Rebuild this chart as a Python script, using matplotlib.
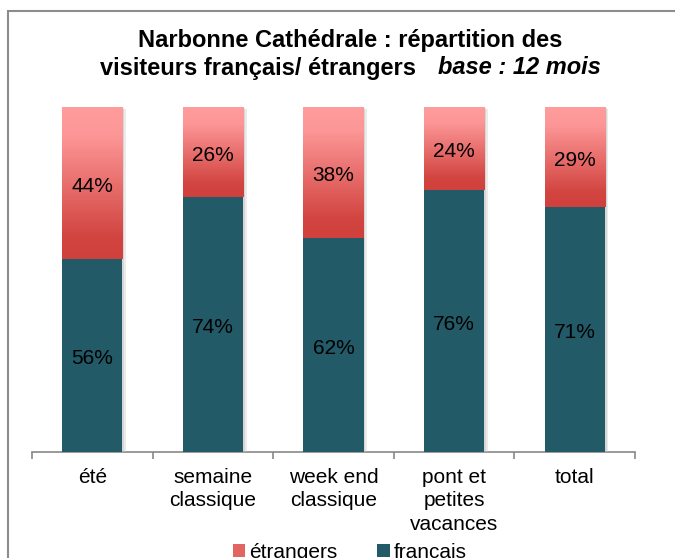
import numpy as np
import matplotlib
matplotlib.use("Agg")
import matplotlib.pyplot as plt
from matplotlib.colors import LinearSegmentedColormap
from matplotlib.patches import Patch, Rectangle
import matplotlib.patheffects as pe

plt.rcParams['font.family'] = ['Liberation Sans', 'DejaVu Sans']

categories = ["été", "semaine\nclassique", "week end\nclassique", "pont et\npetites\nvacances", "total"]
francais = [56, 74, 62, 76, 71]
etrangers = [44, 26, 38, 24, 29]
series_names = ["étrangers", "français"]

TEAL = "#225A68"
red_cmap = LinearSegmentedColormap.from_list(
    "redgrad", [(0.0, "#D0403D"), (0.15, "#D24541"), (0.82, "#FD9797"), (1.0, "#FF9C9C")])

W, H = 675, 558
fig = plt.figure(figsize=(W / 100, H / 100), dpi=100)
ax = fig.add_axes([32 / W, (H - 452) / H, 603 / W, (452 - 107) / H])

x = np.arange(len(categories))
bw = 0.5


def soft_shadow():
    return [pe.SimplePatchShadow(offset=(2.5, -1.5), shadow_rgbFace="#C8C8C8", alpha=0.35),
            pe.SimplePatchShadow(offset=(1.2, -0.8), shadow_rgbFace="#B0B0B0", alpha=0.35)]


bars_f = ax.bar(x, francais, width=bw, color=TEAL, zorder=3,
                path_effects=soft_shadow() + [pe.Normal()])
bars_e = ax.bar(x, etrangers, width=bw, bottom=francais, color="none", zorder=3)

grad = np.linspace(0, 1, 256).reshape(-1, 1)
for b in bars_e:
    x0, y0 = b.get_x(), b.get_y()
    w, h = b.get_width(), b.get_height()
    sh = Rectangle((x0, y0), w, h, transform=ax.transData, facecolor="white", zorder=2,
                   path_effects=soft_shadow() + [pe.Normal()])
    ax.add_patch(sh)
    im = ax.imshow(grad, cmap=red_cmap, aspect="auto", origin="lower",
                   extent=(x0, x0 + w, y0, y0 + h), zorder=3)
    im.set_clip_path(b)

for xi, f, e in zip(x, francais, etrangers):
    ax.annotate(f"{f}%", (xi, f / 2), xytext=(0, -2.3), textcoords="offset points",
                ha="center", va="center", fontsize=15, color="black", zorder=5)
    ax.annotate(f"{e}%", (xi, f + e / 2), xytext=(0, -2.3), textcoords="offset points",
                ha="center", va="center", fontsize=15, color="black", zorder=5)

ax.set_xlim(-0.5, len(categories) - 0.5)
ax.set_ylim(0, 100)
ax.set_yticks([])
for s in ["top", "right", "left"]:
    ax.spines[s].set_visible(False)
ax.spines["bottom"].set_color("#888888")
ax.spines["bottom"].set_linewidth(1.2)
ax.set_xticks(np.arange(len(categories) + 1) - 0.5, minor=False)
ax.set_xticklabels([])
ax.tick_params(axis="x", which="major", length=5, color="#888888", width=1.2)
ax.set_xticks(x, minor=True)
ax.set_xticklabels(categories, minor=True, fontsize=15, linespacing=1.3)
ax.tick_params(axis="x", which="minor", length=0, pad=11.5)

fig.text(350 / W, 1 - 41 / H, "Narbonne Cathédrale : répartition des", ha="center", va="center",
         fontsize=17, fontweight="bold")
fig.text(416 / W, 1 - 68 / H, "visiteurs français/ étrangers", ha="right", va="center",
         fontsize=17, fontweight="bold")
fig.text(438 / W, 1 - 68 / H, "base : 12 mois", ha="left", va="center",
         fontsize=17, fontweight="bold", style="italic")

handles = [Patch(facecolor="#E26562", edgecolor="none"), Patch(facecolor=TEAL, edgecolor="none")]
fig.legend(handles, series_names, loc="center", bbox_to_anchor=(350 / W, 1 - 552 / H), ncol=2,
           frameon=False, fontsize=15, handlelength=0.6, handleheight=0.6, handletextpad=0.2,
           columnspacing=1.9, borderpad=0, borderaxespad=0)

fig.patches.append(Rectangle((8 / W, -0.05), 1.2, 1 - 11 / H + 0.05, transform=fig.transFigure,
                             fill=False, edgecolor="#8C8C8C", linewidth=1.5))

fig.savefig("out.png", dpi=100)
